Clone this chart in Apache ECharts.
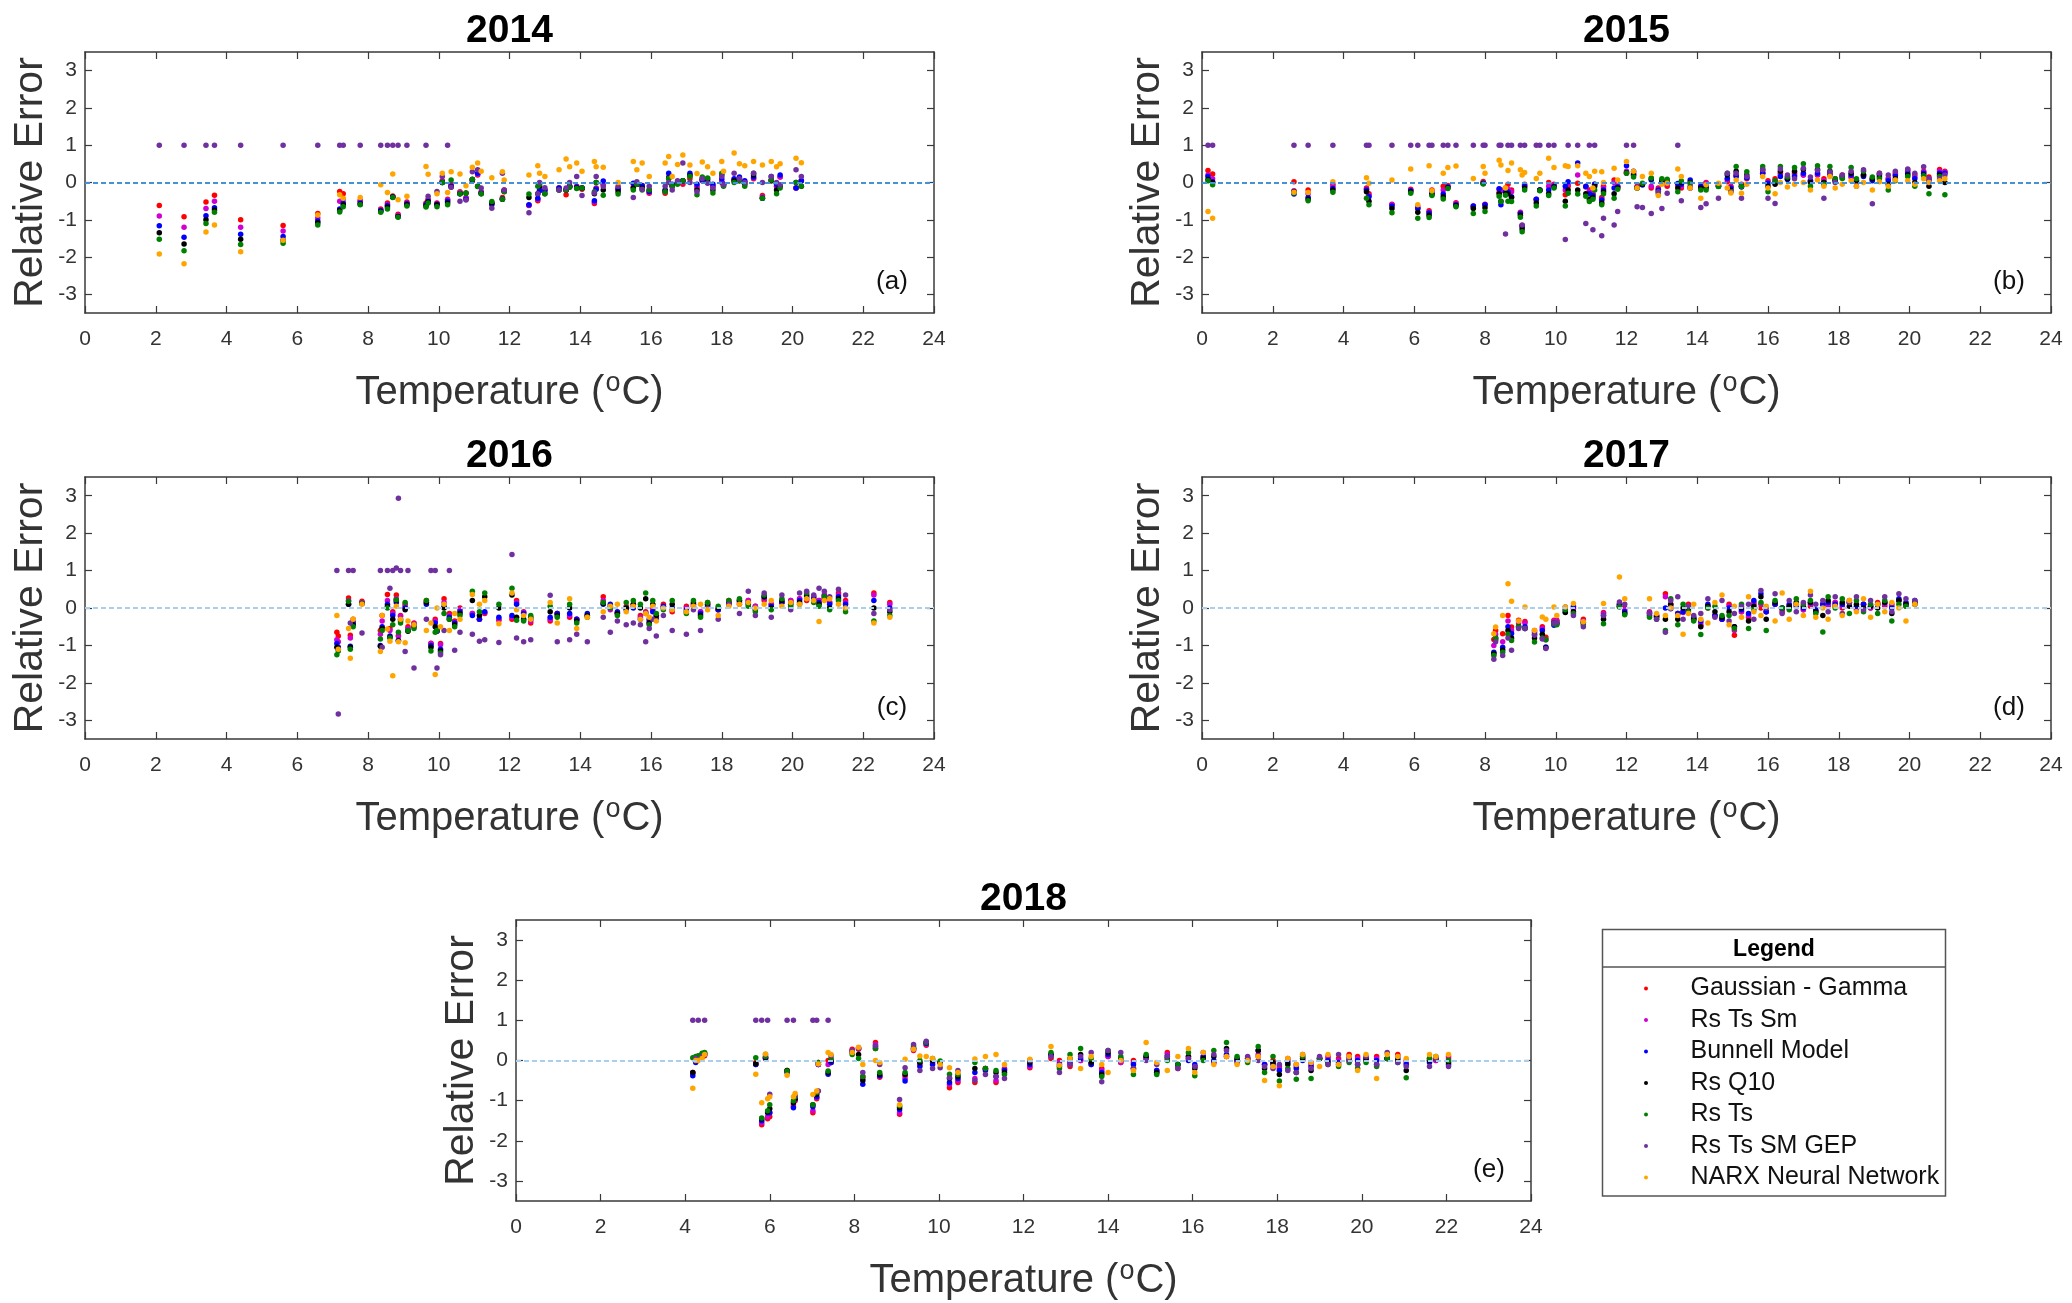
<!DOCTYPE html>
<html>
<head>
<meta charset="utf-8">
<title>Relative error vs temperature</title>
<script src="https://cdn.jsdelivr.net/npm/echarts@6/dist/echarts.min.js"></script>
<style>
  html, body { margin: 0; padding: 0; background: #fff; }
  #main { width: 2072px; height: 1303px; }
</style>
</head>
<body>
<div id="main"></div>
<script>
// model names and marker colours (legend order)
const models = ['Gaussian - Gamma', 'Rs Ts Sm', 'Bunnell Model', 'Rs Q10', 'Rs Ts', 'Rs Ts SM GEP', 'NARX Neural Network'];
const colors = ['#ff0000', '#d000d0', '#0000ff', '#000000', '#008000', '#7030a0', '#ffa500'];
const yTicks = [-3, -2, -1, 0, 1, 2, 3];

// ---- 2014 ----
const t14 = [2.1,2.8,3.42,3.66,4.4,5.6,6.58,7.2,7.3,7.78, 8.36,8.55,8.7,8.85,9.1,9.64,9.7,9.95,10.1,10.25,
  10.35,10.6,10.77,10.95,11.1,11.2,11.5,11.8,11.85,12.55, 12.8,12.85,13.0,13.4,13.6,13.7,13.9,14.05,14.4,14.45,
  14.65,15.07,15.5,15.6,15.75,15.95,16.4,16.5,16.6,16.75, 16.9,17.1,17.3,17.45,17.6,17.75,18.0,18.05,18.35,18.5,
  18.65,18.9,19.15,19.4,19.55,19.65,20.1,20.25];
const gg14 = [-0.62,-0.92,-0.52,-0.34,-1.0,-1.15,-0.83,-0.24,-0.3,-0.48, -0.71,-0.55,-0.36,-0.85,-0.52,-0.55,-0.45,-0.55,0.05,-0.45,
  -0.05,-0.25,-0.4,0.05,0.2,-0.25,-0.55,-0.4,-0.2,-0.62, -0.49,-0.2,-0.22,-0.15,-0.33,-0.1,-0.1,-0.18,-0.56,-0.15,
  -0.05,-0.15,-0.13,-0.05,-0.08,-0.29,-0.29,0.1,-0.1,0.0, -0.05,0.1,-0.15,0.05,0.0,-0.1,0.0,-0.05,0.05,0.1,
  0.0,0.1,-0.35,0.05,-0.1,0.15,-0.15,0.05];
const sm14 = [-0.9,-1.2,-0.7,-0.5,-1.2,-1.3,-0.95,-0.5,-0.45,-0.5, -0.73,-0.6,-0.38,-0.88,-0.55,-0.58,-0.47,-0.56,0.02,-0.47,
  -0.08,-0.27,-0.42,0.05,0.22,-0.27,-0.57,-0.43,-0.22,-0.61, -0.45,-0.21,-0.2,-0.15,-0.2,-0.1,-0.12,-0.15,-0.52,-0.17,
  -0.05,-0.18,-0.05,-0.05,-0.09,-0.27,-0.25,0.15,-0.1,0.0, 0.0,0.2,-0.1,0.06,0.0,-0.1,0.05,-0.05,0.08,0.12,
  0.02,0.12,-0.38,0.08,-0.1,0.15,-0.15,0.05];
const bn14 = [-1.16,-1.47,-0.89,-0.68,-1.39,-1.45,-1.03,-0.71,-0.55,-0.55, -0.75,-0.62,-0.39,-0.91,-0.57,-0.6,-0.5,-0.58,0.0,-0.5,
  -0.1,-0.3,-0.45,0.08,0.25,-0.28,-0.6,-0.45,-0.22,-0.6, -0.42,-0.22,-0.2,-0.15,-0.2,-0.1,-0.12,-0.15,-0.49,-0.18,
  0.04,-0.18,-0.02,-0.05,-0.09,-0.24,-0.2,0.25,-0.05,0.0, 0.05,0.25,-0.05,0.07,0.05,-0.05,0.1,-0.05,0.1,0.15,
  0.05,0.15,-0.42,0.16,-0.05,0.2,-0.15,0.05];
const q14 = [-1.35,-1.65,-1.0,-0.74,-1.52,-1.55,-1.08,-0.75,-0.6,-0.58, -0.78,-0.66,-0.39,-0.92,-0.6,-0.63,-0.52,-0.6,0.0,-0.55,
  -0.12,-0.3,-0.28,0.08,-0.1,-0.3,-0.55,-0.45,-0.24,-0.4, -0.3,-0.1,-0.3,-0.2,-0.2,-0.12,-0.15,-0.15,-0.3,0.0,
  -0.2,-0.25,-0.15,-0.05,-0.15,-0.2,-0.22,0.12,-0.08,-0.02, 0.05,0.18,-0.2,0.1,0.1,-0.2,0.2,-0.08,0.05,0.05,
  -0.05,0.2,-0.42,0.05,-0.2,-0.1,0.0,-0.1];
const ts14 = [-1.52,-1.83,-1.1,-0.8,-1.66,-1.63,-1.14,-0.79,-0.65,-0.6, -0.8,-0.71,-0.4,-0.93,-0.63,-0.66,-0.55,-0.65,0.0,-0.6,
  0.07,-0.3,-0.29,0.09,-0.11,-0.3,-0.51,-0.45,-0.25,-0.31, -0.1,-0.05,-0.3,-0.2,-0.2,-0.13,-0.16,-0.15,-0.25,0.0,
  -0.34,-0.31,-0.2,-0.05,-0.2,-0.2,-0.25,0.11,-0.1,-0.05, 0.05,0.16,-0.33,0.15,0.12,-0.28,0.25,-0.1,0.0,0.05,
  -0.1,0.25,-0.42,0.07,-0.3,-0.15,0.0,-0.1];
const gep14 = [1,1,1,1,1,1,1,1,1,1, 1,1,1,1,1,1,-0.37,-0.24,0.16,1,
  -0.13,-0.5,-0.47,0.29,0.34,-0.15,-0.69,0.25,-0.2,-0.81, -0.3,0.0,-0.14,-0.2,-0.15,0.0,0.16,-0.35,-0.28,0.16,
  -0.11,-0.1,-0.4,0.02,-0.18,-0.1,-0.1,0.0,-0.2,0.05, 0.52,0.0,-0.25,0.1,-0.02,-0.15,0.16,-0.06,0.25,0.1,
  0.0,0.25,0.0,0.16,0.0,-0.06,0.34,0.16];
const nx14 = [-1.92,-2.18,-1.33,-1.14,-1.86,-1.55,-0.87,-0.33,-0.42,-0.4, -0.06,-0.27,0.23,-0.46,-0.37,0.43,0.22,-0.3,0.25,-0.27,
  0.29,0.23,-0.09,0.41,0.52,0.3,0.13,0.29,0.07,0.2, 0.45,0.25,0.16,0.34,0.63,0.42,0.52,0.3,0.56,0.42,
  0.41,0.0,0.56,0.34,0.52,0.16,0.52,0.7,0.16,0.48, 0.74,0.47,0.24,0.55,0.42,0.25,0.56,0.3,0.79,0.5,
  0.45,0.56,0.47,0.56,0.42,0.5,0.65,0.53];

// ---- 2015 ----
const t15 = [0.17,0.3,2.6,3.0,3.7,4.65,4.72,5.37,5.9,6.1, 6.42,6.5,6.82,6.95,7.18,7.67,7.95,8.0,8.4,8.45,
  8.65,8.75,8.58,9.0,9.05,9.12,9.45,9.55,9.8,9.95, 10.27,10.35,10.62,10.85,10.95,11.05,11.1,11.3,11.35,11.65,
  11.75,12.0,12.2,12.3,12.45,12.7,12.9,13.0,13.15,13.45, 13.55,13.8,14.1,14.25,14.6,14.85,14.95,15.1,15.25,15.4,
  15.85,16.0,16.2,16.35,16.55,16.75,17.0,17.2,17.4,17.58, 17.75,17.9,18.1,18.35,18.5,18.7,18.95,19.15,19.4,19.6,
  19.95,20.15,20.4,20.55,20.85,21.0];
const gg15 = [0.32,0.23,0.02,-0.2,-0.05,-0.15,-0.3,-0.58,-0.18,-0.65, -0.76,-0.2,-0.1,-0.08,-0.54,-0.66,0.03,-0.58,-0.27,-0.2,
  -0.05,-0.2,-0.15,-0.8,-1.15,-0.05,-0.47,-0.2,0.0,-0.05, -0.33,-0.1,-0.02,-0.1,-0.2,-0.3,-0.05,-0.4,-0.1,0.07,
  -0.1,0.25,0.2,-0.1,-0.05,-0.15,-0.15,0.0,-0.1,-0.07, -0.15,-0.15,-0.1,0.0,-0.05,0.02,-0.1,0.2,-0.05,0.1,
  0.29,0.05,0.1,0.25,0.15,0.25,0.2,0.05,0.2,0.1, 0.25,0.1,0.2,0.15,0.0,0.2,0.1,0.25,0.1,0.25,
  0.34,0.2,0.3,0.15,0.35,0.3];
const sm15 = [0.2,0.1,-0.22,-0.3,-0.1,-0.18,-0.35,-0.6,-0.2,-0.7, -0.8,-0.24,-0.2,-0.1,-0.56,-0.63,0.0,-0.6,-0.18,-0.22,
  -0.18,-0.25,-0.2,-0.82,-1.16,-0.08,-0.45,-0.2,-0.1,-0.07, -0.2,-0.05,0.2,-0.12,-0.25,-0.32,-0.06,-0.45,-0.15,0.0,
  -0.1,0.3,0.25,-0.12,-0.05,-0.1,-0.18,0.02,-0.05,-0.05, -0.1,-0.1,-0.1,-0.02,-0.08,0.08,-0.12,0.19,-0.1,0.12,
  0.25,0.0,0.05,0.2,0.1,0.2,0.2,0.05,0.2,0.05, 0.2,0.08,0.18,0.15,0.0,0.2,0.07,0.22,0.1,0.2,
  0.3,0.15,0.28,0.1,0.3,0.28];
const bn15 = [0.16,0.02,-0.31,-0.4,-0.16,-0.2,-0.38,-0.63,-0.22,-0.7, -0.82,-0.29,-0.31,-0.12,-0.6,-0.63,-0.02,-0.6,-0.17,-0.6,
  -0.25,-0.38,-0.24,-0.83,-1.18,-0.1,-0.45,-0.2,-0.2,-0.1, -0.1,0.02,0.52,-0.11,-0.3,-0.35,-0.05,-0.47,-0.2,-0.15,
  -0.12,0.45,0.3,-0.14,-0.07,0.07,-0.2,0.05,-0.02,-0.03, -0.05,0.07,-0.11,-0.1,-0.1,0.11,-0.15,0.16,-0.12,0.13,
  0.25,-0.02,0.0,0.16,0.08,0.16,0.25,0.04,0.25,0.0, 0.2,0.05,0.16,0.2,0.05,0.16,0.05,0.2,0.05,0.18,
  0.25,0.1,0.25,0.05,0.25,0.25];
const q15 = [0.08,0.0,-0.25,-0.45,-0.2,-0.25,-0.5,-0.7,-0.25,-0.8, -0.88,-0.32,-0.38,-0.14,-0.62,-0.7,-0.03,-0.68,-0.3,-0.5,
  -0.3,-0.4,-0.3,-0.88,-1.25,-0.15,-0.55,-0.21,-0.3,-0.12, -0.5,-0.2,-0.2,-0.3,-0.45,-0.4,-0.1,-0.55,-0.25,-0.3,
  -0.15,0.26,0.2,-0.15,-0.05,0.1,-0.25,0.05,0.05,-0.15, 0.0,0.0,-0.15,-0.15,-0.1,0.2,-0.2,0.3,-0.1,0.2,
  0.35,-0.1,-0.05,0.3,0.1,0.3,0.35,0.0,0.35,0.0, 0.3,0.05,0.12,0.25,0.05,0.2,0.1,0.15,-0.05,0.1,
  0.2,0.0,0.2,-0.1,0.2,0.0];
const ts15 = [0.05,-0.06,-0.28,-0.49,-0.26,-0.42,-0.6,-0.81,-0.29,-0.96, -0.94,-0.35,-0.44,-0.16,-0.65,-0.83,-0.04,-0.78,-0.37,-0.51,
  -0.5,-0.51,-0.34,-0.93,-1.32,-0.2,-0.63,-0.22,-0.35,-0.15, -0.63,-0.29,-0.31,-0.37,-0.51,-0.45,-0.2,-0.6,-0.3,-0.42,
  -0.18,0.25,0.15,-0.15,-0.02,0.12,-0.3,0.1,0.09,-0.25, 0.04,-0.02,-0.2,-0.2,-0.11,0.25,-0.24,0.43,-0.11,0.29,
  0.43,-0.25,0.05,0.43,0.15,0.4,0.5,-0.1,0.45,-0.05, 0.43,0.1,0.11,0.4,0.1,0.3,0.15,0.1,-0.2,0.05,
  0.16,-0.1,0.18,-0.3,0.16,-0.33];
const gep15 = [1,1,1,1,1,1,1,1,1,1, 1,1,1,1,1,1,1,1,1,1,
  1,1,-1.38,1,-1.14,1,1,1,1,1, -1.53,1,1,-1.1,1,-1.27,1,-1.43,-0.96,-1.14,
  -0.78,1,1,-0.65,-0.67,-0.83,-0.25,-0.7,-0.29,1, -0.49,-0.15,-0.67,-0.57,-0.42,0.25,-0.25,0.25,-0.42,0.16,
  0.34,-0.42,-0.56,0.36,0.2,0.1,0.38,0.15,0.33,-0.42, 0.29,0.0,0.2,0.3,-0.1,0.34,-0.57,0.25,0.2,0.3,
  0.36,0.25,0.42,0.1,0.1,0.2];
const nx15 = [-0.78,-0.96,-0.26,-0.27,0.02,0.13,-0.02,0.07,0.36,-0.6, 0.45,-0.22,0.25,0.4,0.44,0.11,0.43,0.25,0.6,0.47,
  0.32,0.52,-0.15,0.34,0.2,0.27,0.11,0.25,0.65,0.4, 0.45,0.43,0.45,0.25,0.16,-0.15,0.3,0.29,0.0,0.38,
  0.07,0.56,0.3,-0.15,0.16,0.25,-0.35,-0.05,-0.02,0.36, 0.16,-0.15,-0.42,-0.06,-0.02,-0.15,-0.28,0.07,-0.29,-0.05,
  0.16,-0.15,-0.3,0.0,-0.12,-0.05,0.0,-0.2,0.07,-0.1, 0.16,-0.15,-0.05,0.05,-0.1,0.0,-0.2,0.02,-0.1,0.07,
  0.05,-0.05,0.1,0.0,0.05,0.1];

// ---- 2016 ----
const t16 = [7.12,7.16,7.45,7.5,7.58,7.83,8.35,8.4,8.55,8.62, 8.7,8.8,8.86,8.92,9.05,9.13,9.3,9.65,9.78,9.9,
  9.95,10.05,10.15,10.3,10.45,10.6,10.95,11.15,11.3,11.7, 12.07,12.2,12.4,12.6,13.15,13.35,13.7,13.9,14.2,14.65,
  14.85,15.05,15.3,15.5,15.7,15.85,15.95,16.05,16.15,16.35, 16.6,17.0,17.2,17.4,17.6,17.9,18.2,18.5,18.75,18.95,
  19.2,19.4,19.7,19.95,20.2,20.4,20.6,20.75,20.9,21.05, 21.3,21.5,22.3,22.75];
const gg16 = [-0.65,-0.75,0.27,-0.73,-0.3,0.18,-0.6,-0.2,0.36,-0.55, -0.1,0.35,-0.74,-0.2,0.1,-0.5,-0.4,0.2,-0.94,-0.3,
  -0.6,-0.95,0.25,-0.15,-0.35,0.0,-0.15,-0.3,-0.15,-0.33, -0.3,0.2,-0.1,-0.4,-0.35,-0.15,-0.25,-0.3,-0.2,0.3,
  0.0,-0.15,0.05,0.1,-0.2,-0.1,-0.4,0.0,-0.2,0.1, -0.1,0.05,0.1,-0.1,0.15,-0.05,0.2,0.1,0.2,0.05,
  0.2,0.1,0.15,0.2,0.25,0.2,0.3,0.2,0.35,0.15, 0.4,0.2,0.4,0.15];
const sm16 = [-0.85,-0.9,0.2,-0.8,-0.35,0.15,-0.7,-0.35,0.2,-0.6, -0.15,0.25,-0.75,-0.22,0.05,-0.55,-0.42,0.15,-0.95,-0.35,
  -0.62,-0.98,0.15,-0.2,-0.38,-0.05,-0.15,-0.3,-0.12,-0.3, -0.25,0.15,-0.12,-0.35,-0.3,-0.15,-0.2,-0.3,-0.2,0.2,
  -0.05,-0.12,0.0,0.05,-0.25,-0.12,-0.35,-0.05,-0.25,0.05, -0.05,0.0,0.1,-0.1,0.1,-0.05,0.15,0.15,0.2,0.05,
  0.25,0.1,0.15,0.2,0.25,0.25,0.3,0.2,0.35,0.15, 0.35,0.15,0.35,0.1];
const bn16 = [-0.95,-1.05,0.1,-1.02,-0.4,0.12,-1.0,-0.5,0.1,-0.75, -0.2,0.15,-0.86,-0.3,0.0,-0.6,-0.45,0.1,-1.0,-0.4,
  -0.62,-1.1,0.05,-0.25,-0.4,-0.1,-0.2,-0.3,-0.1,-0.25, -0.2,0.1,-0.15,-0.3,-0.25,-0.15,-0.15,-0.3,-0.15,0.1,
  0.1,-0.1,-0.05,0.0,-0.3,-0.15,-0.3,-0.1,-0.3,0.05, 0.0,-0.05,0.05,-0.15,0.05,-0.05,0.1,0.2,0.15,0.0,
  0.3,0.05,0.15,0.15,0.2,0.3,0.25,0.15,0.3,0.1, 0.3,0.1,0.2,0.0];
const q16 = [-1.05,-1.1,0.1,-1.05,-0.45,0.12,-1.02,-0.55,0.05,-0.78, -0.3,0.2,-0.88,-0.35,-0.05,-0.62,-0.5,0.15,-1.05,-0.5,
  -0.6,-1.15,0.0,-0.3,-0.45,-0.15,0.2,-0.2,0.3,0.0, 0.35,-0.25,-0.3,-0.25,-0.1,-0.2,0.0,-0.35,-0.2,0.12,
  0.05,-0.15,0.0,0.1,0.0,0.25,-0.4,0.1,-0.2,0.0, 0.1,-0.1,0.15,-0.2,0.1,0.0,0.15,0.2,0.1,-0.05,
  0.3,0.0,0.2,0.1,0.15,0.35,0.2,0.1,0.25,0.0, 0.25,0.0,0.0,-0.1];
const ts16 = [-1.25,-1.15,0.18,-1.1,-0.5,0.12,-0.83,-0.6,0.0,-0.8, -0.45,0.22,-0.65,-0.4,0.15,-0.6,-0.55,0.2,-1.15,-0.65,
  -0.6,-1.2,-0.15,-0.3,-0.5,-0.2,0.45,-0.1,0.4,0.1, 0.53,-0.33,-0.35,-0.2,0.05,-0.25,0.1,-0.4,-0.25,0.15,
  0.0,-0.2,0.15,0.2,0.1,0.4,-0.45,0.2,-0.15,-0.05, 0.2,-0.15,0.2,-0.25,0.15,0.05,0.2,0.25,0.05,-0.1,
  0.35,-0.05,0.25,0.05,0.1,0.4,0.15,0.05,0.3,-0.05, 0.2,-0.1,-0.35,-0.2];
const gep16 = [1,-2.83,1,-0.4,1,-0.67,1,-1.05,1,0.53, 1,1.07,2.93,1,-1.16,1,-1.6,-0.3,1,1,
  -1.6,-1.25,-0.6,1,-1.13,-0.65,-0.7,-0.89,-0.85,-0.92, 1.43,-0.8,-0.9,-0.85,0.34,-0.9,-0.85,-0.7,-0.9,-0.25,
  -0.65,-0.35,-0.45,-0.4,-0.45,-0.9,-0.55,-0.3,-0.75,-0.2, -0.6,-0.7,-0.05,-0.6,0.0,-0.3,0.1,-0.15,0.45,-0.2,
  0.4,-0.25,0.35,-0.05,0.4,0.45,0.35,0.53,0.45,0.3, 0.5,0.35,-0.15,-0.05];
const nx16 = [-0.2,-1.1,-0.55,-1.34,-0.3,0.1,-1.16,-0.2,-0.56,-0.89, -1.81,0.05,-0.9,-0.3,-0.93,-0.35,-0.45,-0.6,-0.4,-1.78,
  0.0,-0.5,0.1,-0.6,-0.15,-0.3,0.36,0.1,0.2,-0.42, 0.4,-0.05,-0.2,-0.3,0.15,-0.4,0.25,-0.55,-0.25,-0.1,
  0.05,0.1,-0.1,0.05,-0.3,-0.15,-0.25,0.05,-0.35,0.0, -0.05,-0.1,0.05,0.1,-0.05,-0.2,0.05,0.1,0.15,0.0,
  0.1,0.2,0.05,0.15,0.1,0.25,0.2,-0.36,0.2,0.25, 0.1,0.0,-0.4,-0.25];

// ---- 2017 ----
const t17 = [8.25,8.3,8.5,8.65,8.75,8.95,9.13,9.4,9.62,9.72, 9.95,10.03,10.27,10.5,10.78,11.35,11.8,11.95,12.65,12.85,
  13.1,13.25,13.45,13.6,13.75,13.9,14.1,14.3,14.5,14.7, 14.9,15.05,15.25,15.45,15.6,15.8,15.95,16.2,16.4,16.6,
  16.8,17.0,17.2,17.35,17.55,17.7,17.9,18.1,18.3,18.5, 18.7,18.9,19.1,19.3,19.5,19.7,19.9,20.15];
const gg17 = [-0.84,-0.6,-0.69,-0.2,-0.51,-0.33,-0.36,-0.6,-0.5,-0.78, -0.33,-0.33,0.0,0.0,-0.3,-0.12,0.05,0.0,-0.1,-0.2,
  0.38,0.1,-0.15,-0.1,0.1,-0.3,-0.46,0.0,-0.2,-0.3, 0.1,-0.73,-0.1,-0.25,0.1,0.0,-0.1,0.1,-0.1,0.0,
  0.1,-0.05,0.05,-0.1,0.1,0.05,0.15,0.0,0.2,-0.05, 0.1,0.0,0.15,0.05,0.1,0.2,0.05,0.1];
const sm17 = [-1.0,-0.7,-0.9,-0.35,-0.6,-0.4,-0.4,-0.65,-0.55,-0.85, -0.35,-0.35,-0.05,-0.02,-0.35,-0.15,0.1,-0.05,-0.12,-0.2,
  0.3,0.05,-0.15,-0.12,0.05,-0.28,-0.4,0.05,-0.2,-0.3, 0.05,-0.6,-0.1,-0.2,0.15,0.1,-0.1,0.1,-0.05,0.05,
  0.1,-0.05,0.1,-0.08,0.1,0.1,0.15,0.05,0.15,0.0, 0.1,0.0,0.1,0.1,0.05,0.2,0.1,0.15];
const bn17 = [-1.18,-0.8,-1.05,-0.5,-0.68,-0.5,-0.5,-0.7,-0.6,-1.04, -0.46,-0.4,-0.11,0.05,-0.38,-0.2,0.1,-0.1,-0.15,-0.22,
  0.0,-0.02,-0.15,-0.1,0.0,-0.25,-0.35,0.1,-0.2,-0.3, 0.0,-0.5,-0.05,-0.15,0.2,0.38,-0.1,0.1,0.0,0.1,
  0.05,0.0,0.15,-0.05,0.1,0.15,0.1,0.1,0.15,0.05, 0.1,0.05,0.1,0.15,0.0,0.25,0.15,0.2];
const q17 = [-1.22,-0.85,-1.12,-0.6,-0.8,-0.5,-0.55,-0.8,-0.7,-1.06, -0.4,-0.42,-0.12,-0.1,-0.4,-0.3,0.05,-0.15,-0.2,-0.25,
  -0.3,0.1,-0.3,0.0,-0.05,-0.3,-0.5,0.05,-0.1,-0.25, -0.1,-0.5,0.0,-0.35,0.05,0.3,-0.3,0.15,0.0,0.05,
  0.15,0.05,0.15,-0.1,-0.2,0.2,0.05,0.15,0.05,0.1, 0.0,0.05,0.0,0.15,-0.15,0.2,0.1,0.15];
const ts17 = [-1.27,-0.8,-1.18,-0.7,-0.87,-0.5,-0.55,-0.91,-0.8,-0.85, -0.43,-0.45,-0.05,-0.15,-0.45,-0.42,0.03,-0.18,-0.25,-0.3,
  -0.6,0.25,-0.45,0.1,-0.1,-0.35,-0.71,0.0,0.05,-0.2, -0.2,-0.55,0.1,-0.55,-0.05,0.15,-0.6,0.2,0.0,-0.05,
  0.25,0.1,0.2,-0.15,-0.64,0.3,0.0,0.25,-0.15,0.2, -0.1,0.1,-0.15,0.2,-0.35,0.1,0.05,0.1];
const gep17 = [-1.37,-0.9,-1.27,-0.8,-1.13,-0.55,-0.55,-0.73,-0.83,-1.08, -0.4,-0.38,0.03,-0.2,-0.5,-0.2,0.16,0.1,-0.15,-0.3,
  -0.65,0.2,0.3,-0.3,0.05,-0.2,-0.15,0.25,-0.25,0.2, -0.35,-0.15,0.05,0.1,-0.3,0.47,0.0,0.38,-0.15,0.2,
  -0.1,0.15,0.35,0.1,0.2,-0.1,0.3,-0.15,0.15,0.3, -0.05,0.2,0.1,0.3,-0.1,0.38,0.25,0.2];
const nx17 = [-0.69,-0.51,-0.2,0.65,0.18,-0.35,0.03,-0.6,-0.24,-0.3, 0.03,-0.2,0.03,0.12,-0.37,0.12,0.83,0.25,0.25,-0.15,
  -0.2,0.0,-0.2,-0.7,-0.15,0.1,-0.3,-0.4,0.15,0.35, -0.45,0.05,-0.25,0.3,-0.1,-0.2,0.05,-0.35,0.4,-0.3,
  0.1,-0.2,0.45,-0.25,0.0,-0.3,0.05,-0.2,0.2,-0.1, 0.25,-0.25,0.1,-0.1,0.15,0.0,-0.35,0.1];

// ---- 2018 ----
const t18 = [4.18,4.25,4.31,4.4,4.46,5.67,5.81,5.9,5.95,6.0, 6.41,6.56,6.6,7.02,7.11,7.15,7.38,7.45,7.95,8.1,
  8.2,8.5,8.6,9.07,9.2,9.4,9.55,9.7,9.85,10.03, 10.25,10.45,10.85,11.1,11.35,11.55,12.15,12.65,12.85,13.1,
  13.35,13.6,13.85,14.0,14.3,14.6,14.9,15.15,15.4,15.65, 15.9,16.05,16.25,16.5,16.8,17.05,17.3,17.55,17.7,17.9,
  18.05,18.25,18.45,18.6,18.8,19.0,19.2,19.45,19.7,19.9, 20.1,20.35,20.6,20.85,21.05,21.6,21.75,22.05];
const gg18 = [-0.3,0.05,0.1,0.15,0.12,-0.05,-1.6,0.05,-1.45,-1.4, -0.25,-1.1,-1.0,-1.3,-0.95,-0.1,0.0,-0.05,0.28,0.28,
  -0.4,0.45,-0.42,-1.34,-0.38,0.25,-0.05,0.38,0.0,-0.05, -0.68,-0.55,-0.55,-0.2,-0.55,-0.2,-0.18,0.05,0.0,-0.15,
  0.0,-0.05,-0.2,0.1,-0.05,0.0,0.05,-0.3,0.2,-0.2, 0.1,-0.15,0.05,-0.05,0.1,0.0,0.05,0.1,-0.1,0.0,
  -0.15,0.05,-0.1,0.1,-0.05,0.05,0.1,0.05,0.15,0.1, 0.05,0.1,0.05,0.15,0.0,0.05,0.0,0.1];
const sm18 = [-0.32,0.0,0.1,0.12,0.15,-0.1,-1.55,0.05,-1.4,-1.3, -0.27,-1.15,-0.98,-1.25,-0.92,-0.1,-0.1,-0.05,0.25,0.3,
  -0.45,0.4,-0.4,-1.3,-0.45,0.27,-0.1,0.4,-0.05,-0.05, -0.6,-0.5,-0.45,-0.22,-0.5,-0.22,-0.15,0.1,-0.05,-0.1,
  0.0,-0.1,-0.25,0.1,-0.05,-0.05,0.05,-0.25,0.15,-0.15, 0.05,-0.15,0.1,-0.05,0.1,0.0,0.05,0.15,-0.1,-0.05,
  -0.2,0.0,-0.15,0.05,-0.1,0.05,0.05,0.0,0.1,0.05, 0.05,0.05,0.05,0.1,-0.05,0.0,0.0,0.05];
const bn18 = [-0.38,-0.05,0.08,0.1,0.15,-0.1,-1.5,0.06,-1.3,-1.3, -0.3,-1.18,-0.95,-1.15,-0.9,-0.1,-0.34,-0.05,0.22,0.32,
  -0.59,0.35,-0.38,-1.22,-0.51,0.3,-0.15,0.43,-0.1,-0.05, -0.55,-0.45,-0.3,-0.25,-0.4,-0.25,-0.1,0.15,-0.1,-0.05,
  0.05,-0.1,-0.3,0.15,0.0,-0.1,0.1,-0.25,0.1,-0.1, 0.0,-0.1,0.1,0.0,0.15,0.0,0.05,0.25,-0.1,-0.1,
  -0.25,-0.05,-0.2,0.0,-0.15,0.05,0.0,-0.05,0.05,0.0, 0.05,0.0,0.05,0.05,-0.1,-0.05,0.05,-0.1];
const q18 = [-0.3,0.05,0.1,0.15,0.18,-0.08,-1.45,0.08,-1.28,-1.2, -0.25,-1.05,-0.95,-1.1,-0.85,-0.05,-0.3,0.0,0.2,0.15,
  -0.5,0.3,-0.35,-1.17,-0.35,0.3,-0.05,0.45,0.0,-0.05, -0.45,-0.4,-0.2,-0.2,-0.3,-0.3,-0.05,0.15,-0.15,0.05,
  0.15,-0.05,-0.35,0.2,0.05,-0.2,0.1,-0.3,0.05,-0.1, 0.1,-0.2,0.05,0.1,0.3,0.05,0.0,0.25,-0.2,-0.05,
  -0.35,-0.1,-0.3,0.05,-0.25,0.05,-0.05,-0.1,0.0,-0.1, 0.0,-0.1,0.05,0.0,-0.25,0.0,0.05,-0.05];
const ts18 = [0.07,0.1,0.12,0.18,0.2,0.07,-1.43,0.1,-1.25,-1.1, -0.26,-1.0,-0.9,-1.1,-0.8,-0.05,-0.26,0.05,0.15,0.05,
  -0.4,0.3,-0.3,-1.13,-0.3,0.35,0.0,0.45,0.05,-0.01, -0.34,-0.35,-0.05,-0.2,-0.25,-0.35,0.0,0.2,-0.2,0.15,
  0.3,0.05,-0.4,0.25,0.1,-0.35,0.15,-0.35,0.0,-0.1, 0.2,-0.38,0.0,0.25,0.45,0.1,-0.05,0.35,-0.3,0.1,
  -0.51,-0.2,-0.47,0.1,-0.45,0.05,-0.1,-0.15,-0.05,-0.2, -0.05,-0.15,0.05,-0.05,-0.43,0.05,0.1,0.0];
const gep18 = [1,0.05,1,0.1,1,1,1,0.15,1,-0.84, 1,1,-0.88,1,1,-0.76,1,0.12,0.24,0.3,
  -0.3,0.37,-0.1,-0.97,-0.18,0.4,-0.25,0.48,-0.2,-0.18, -0.43,-0.25,-0.5,-0.35,-0.4,-0.45,0.0,0.1,-0.3,-0.1,
  0.1,0.2,-0.53,0.25,0.2,-0.2,0.0,-0.1,0.1,-0.2, 0.05,-0.15,0.2,0.15,0.25,-0.05,0.1,0.0,-0.15,-0.2,
  -0.1,-0.25,-0.3,0.15,-0.2,0.1,-0.1,0.15,0.0,-0.1, 0.1,-0.1,0.2,-0.05,-0.15,-0.15,0.05,-0.15];
const nx18 = [-0.69,0.0,0.0,0.05,0.15,-0.34,-1.05,0.16,-0.95,-0.9, -0.37,-0.9,-0.82,-0.85,-0.76,-0.09,0.2,0.15,0.2,0.33,
  -0.1,0.0,-0.05,-1.1,0.03,0.28,0.11,0.1,0.05,-0.1, -0.18,-0.3,0.04,0.1,0.15,-0.1,0.03,0.35,-0.12,0.05,
  -0.2,0.1,-0.1,-0.3,0.0,-0.25,0.45,-0.05,-0.25,0.1, 0.3,-0.3,0.2,-0.1,0.1,-0.1,0.0,0.1,-0.5,-0.15,
  -0.63,0.05,-0.1,0.15,-0.05,-0.15,0.15,-0.1,0.1,-0.25, 0.15,-0.45,0.15,0.1,0.05,0.15,0.1,0.15];

const panels = [
  { year: '2014', tag: '(a)', temp: t14, vals: [gg14, sm14, bn14, q14, ts14, gep14, nx14], box: [85, 52, 849, 261], zero: '#4592d8' },
  { year: '2015', tag: '(b)', temp: t15, vals: [gg15, sm15, bn15, q15, ts15, gep15, nx15], box: [1202, 52, 849, 261], zero: '#4592d8' },
  { year: '2016', tag: '(c)', temp: t16, vals: [gg16, sm16, bn16, q16, ts16, gep16, nx16], box: [85, 477, 849, 262], zero: '#a8cfee' },
  { year: '2017', tag: '(d)', temp: t17, vals: [gg17, sm17, bn17, q17, ts17, gep17, nx17], box: [1202, 477, 849, 262], zero: '#a8cfee' },
  { year: '2018', tag: '(e)', temp: t18, vals: [gg18, sm18, bn18, q18, ts18, gep18, nx18], box: [516, 920, 1015, 281], zero: '#a8cfee' }
];

const font = "'Liberation Sans', Arial, Helvetica, sans-serif";
const frame = '#3a3a3a';
const grid = [], xAxis = [], yAxis = [], series = [], graphic = [];

panels.forEach(function (p, i) {
  const [left, top, width, height] = p.box;
  grid.push({ left: left, top: top, width: width, height: height });

  const line = { show: true, onZero: false, lineStyle: { color: frame, width: 1.5 } };
  const tick = { show: true, inside: true, length: 7, lineStyle: { color: frame, width: 1.2 } };
  const yTick = Object.assign({}, tick, { customValues: yTicks });

  xAxis.push({
    gridIndex: i, type: 'value', position: 'bottom', min: 0, max: 24, interval: 2,
    axisLine: line, axisTick: tick, splitLine: { show: false },
    axisLabel: { fontSize: 21, color: '#333', margin: 16, fontFamily: font },
    name: '{t|Temperature (}{s|o}{t|C)}', nameLocation: 'middle', nameGap: 57,
    nameTextStyle: {
      color: '#333', fontFamily: font,
      rich: {
        t: { fontSize: 40, color: '#333', fontFamily: font, lineHeight: 46 },
        s: { fontSize: 27, color: '#333', fontFamily: font, lineHeight: 18, verticalAlign: 'top', padding: [0, 1, 0, 1] }
      }
    }
  });
  xAxis.push({
    gridIndex: i, type: 'value', position: 'top', min: 0, max: 24, interval: 2,
    axisLine: line, axisTick: tick, axisLabel: { show: false }, splitLine: { show: false }
  });
  yAxis.push({
    gridIndex: i, type: 'value', position: 'left', min: -3.5, max: 3.5,
    axisLine: line, axisTick: yTick, splitLine: { show: false },
    axisLabel: { customValues: yTicks, fontSize: 21, color: '#333', margin: 8, fontFamily: font },
    name: 'Relative Error', nameLocation: 'middle', nameGap: 34,
    nameTextStyle: { fontSize: 41, color: '#333', fontFamily: font }
  });
  yAxis.push({
    gridIndex: i, type: 'value', position: 'right', min: -3.5, max: 3.5,
    axisLine: line, axisTick: yTick, axisLabel: { show: false }, splitLine: { show: false }
  });

  models.forEach(function (m, k) {
    const v = p.vals[k];
    const s = {
      type: 'scatter', name: m, xAxisIndex: 2 * i, yAxisIndex: 2 * i,
      symbol: 'circle', symbolSize: 5.5,
      itemStyle: { color: colors[k], opacity: 1 },
      emphasis: { disabled: true },
      data: p.temp.map(function (t, j) { return [t, v[j]]; }).filter(function (d) { return typeof d[1] === 'number'; })
    };
    if (k === 0) {
      s.markLine = {
        silent: true, symbol: ['none', 'none'], label: { show: false },
        lineStyle: { type: [5, 3], color: p.zero, width: 2 },
        data: [{ yAxis: 0 }]
      };
    }
    series.push(s);
  });

  graphic.push({
    type: 'text', x: left + width / 2, y: top - 21,
    style: { text: p.year, font: 'bold 39px ' + font, fill: '#000', textAlign: 'center', textVerticalAlign: 'middle' }
  });
  graphic.push({
    type: 'text', x: left + width - 42, y: top + height - 31,
    style: { text: p.tag, font: '26px ' + font, fill: '#111', textAlign: 'center', textVerticalAlign: 'middle' }
  });
});

// legend frame with its header
graphic.push({
  type: 'rect', shape: { x: 1602.5, y: 929.5, width: 343, height: 266.5 },
  style: { fill: 'transparent', stroke: '#555', lineWidth: 1.5 }
});
graphic.push({
  type: 'line', shape: { x1: 1602.5, y1: 967, x2: 1945.5, y2: 967 },
  style: { stroke: '#555', lineWidth: 1.5 }
});
graphic.push({
  type: 'text', x: 1774, y: 950,
  style: { text: 'Legend', font: 'bold 23px ' + font, fill: '#000', textAlign: 'center', textVerticalAlign: 'middle' }
});

const chart = echarts.init(document.getElementById('main'));
chart.setOption({
  animation: false,
  backgroundColor: '#fff',
  grid: grid,
  xAxis: xAxis,
  yAxis: yAxis,
  legend: {
    data: models, orient: 'vertical', left: 1644, top: 976, padding: 0,
    itemWidth: 79, itemHeight: 4, itemGap: 6.5, icon: 'circle', selectedMode: false,
    textStyle: { fontSize: 25, lineHeight: 24, color: '#111', fontFamily: font }
  },
  graphic: graphic,
  series: series
});
</script>
</body>
</html>
